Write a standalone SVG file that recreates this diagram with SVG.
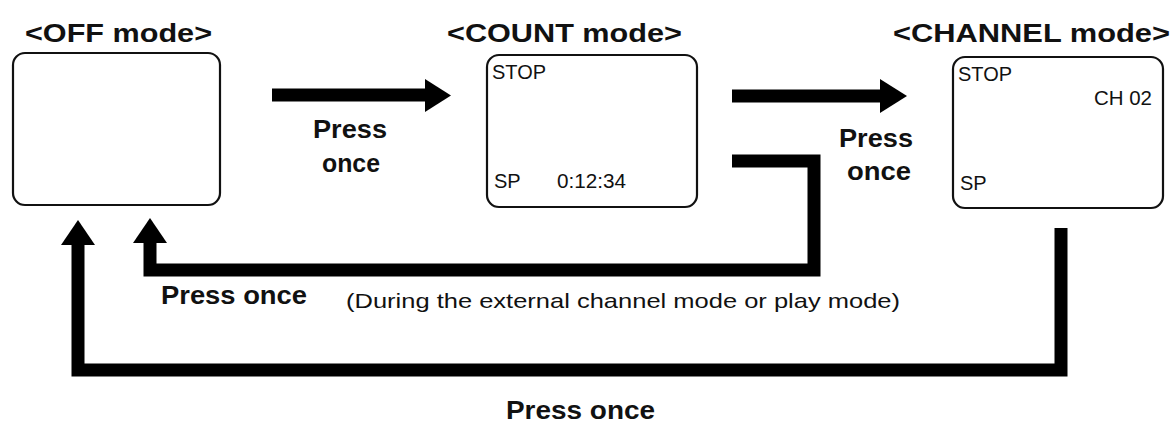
<svg xmlns="http://www.w3.org/2000/svg" width="1173" height="429" viewBox="0 0 1173 429">
<style>
text{font-family:"Liberation Sans",Arial,Helvetica,sans-serif;fill:#111}
.title{font-size:25px;font-weight:bold}
.lbl{font-size:25px;font-weight:bold}
.scr{font-size:20px}
.note{font-size:21px}
.box{fill:#fff;stroke:#111;stroke-width:2.2}
.wire{fill:none;stroke:#000;stroke-width:13;stroke-linejoin:miter}
.head{fill:#000}
</style>
<rect width="1173" height="429" fill="#fff"/>
<g id="off-mode">
<text class="title" x="25" y="42" textLength="187" lengthAdjust="spacingAndGlyphs">&lt;OFF mode&gt;</text>
<rect class="box" x="13" y="53" width="207" height="152" rx="12"/>
</g>
<g id="count-mode">
<text class="title" x="447" y="42" textLength="235" lengthAdjust="spacingAndGlyphs">&lt;COUNT mode&gt;</text>
<rect class="box" x="487" y="55" width="210" height="152" rx="12"/>
<text class="scr" x="492" y="79" textLength="54" lengthAdjust="spacingAndGlyphs">STOP</text>
<text class="scr" x="494" y="188">SP</text>
<text class="scr" x="557" y="188" textLength="69" lengthAdjust="spacingAndGlyphs">0:12:34</text>
</g>
<g id="channel-mode">
<text class="title" x="893" y="42" textLength="277" lengthAdjust="spacingAndGlyphs">&lt;CHANNEL mode&gt;</text>
<rect class="box" x="953" y="57" width="210" height="151" rx="12"/>
<text class="scr" x="958" y="81" textLength="54" lengthAdjust="spacingAndGlyphs">STOP</text>
<text class="scr" x="1094" y="105" textLength="58" lengthAdjust="spacingAndGlyphs">CH 02</text>
<text class="scr" x="960" y="190">SP</text>
</g>
<g id="connectors">
<line class="wire" x1="272" y1="95" x2="427" y2="95" stroke-width="14"/>
<polygon class="head" points="425,79 451,95.5 425,112"/>
<line class="wire" x1="732" y1="96" x2="882" y2="96"/>
<polygon class="head" points="880,79 907,96 880,113"/>
<path class="wire" d="M732,161 H814 V270 H150 V241"/>
<polygon class="head" points="133,243 150,218 167,243"/>
<path class="wire" d="M1061,228 V370 H78 V243"/>
<polygon class="head" points="61,245 78,220 95,245"/>
</g>
<g id="labels">
<text class="lbl" x="313" y="138" textLength="74" lengthAdjust="spacingAndGlyphs">Press</text>
<text class="lbl" x="322" y="172" textLength="58" lengthAdjust="spacingAndGlyphs">once</text>
<text class="lbl" x="839" y="147" textLength="74" lengthAdjust="spacingAndGlyphs">Press</text>
<text class="lbl" x="847" y="180" textLength="64" lengthAdjust="spacingAndGlyphs">once</text>
<text class="lbl" x="161" y="304" textLength="146" lengthAdjust="spacingAndGlyphs">Press once</text>
<text class="note" x="346" y="308" textLength="554" lengthAdjust="spacingAndGlyphs">(During the external channel mode or play mode)</text>
<text class="lbl" x="506" y="419" textLength="149" lengthAdjust="spacingAndGlyphs">Press once</text>
</g>
</svg>
